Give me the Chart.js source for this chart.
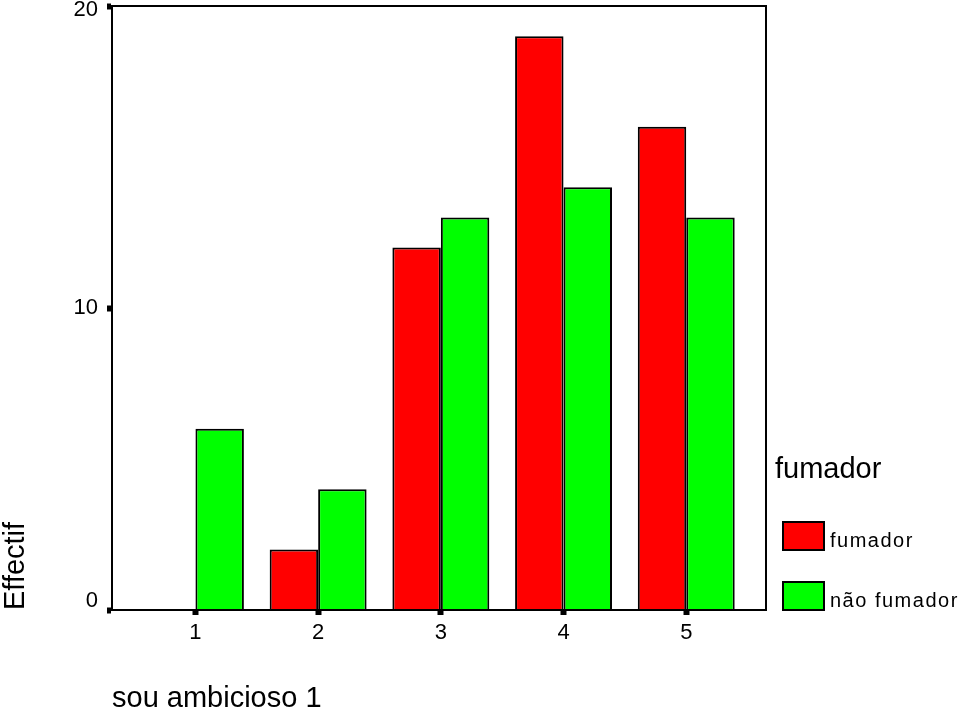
<!DOCTYPE html>
<html>
<head>
<meta charset="utf-8">
<script src="https://cdn.jsdelivr.net/npm/chart.js@4.4.0/dist/chart.umd.min.js"></script>
<style>
  html, body { margin: 0; padding: 0; background: #fff; }
  #wrap { width: 960px; height: 713px; }
</style>
</head>
<body>
<div id="wrap"><canvas id="chart" width="960" height="713"></canvas></div>
<script>
// values
const categories = [1, 2, 3, 4, 5];
const fumador = [0, 2, 12, 19, 16];
const naoFumador = [6, 4, 13, 14, 13];
const yTicks = [0, 10, 20];

const seriesNames = ['fumador', 'não fumador'];
const seriesColors = ['#ff0000', '#00ff00'];

const FONT = "'Liberation Sans', Arial, sans-serif";
Chart.defaults.font.family = FONT;
Chart.defaults.color = '#000';

function toPoints(vals) {
    return categories.map((c, i) => ({ x: c, y: vals[i] }));
}

// frame round the plot + legend at the right
const framePlugin = {
    id: 'frame',
    afterDraw(chart) {
        const { ctx, chartArea: a } = chart;
        ctx.save();
        ctx.strokeStyle = '#000';
        ctx.lineWidth = 2;
        ctx.strokeRect(a.left, a.top, a.right - a.left, a.bottom - a.top);

        // legend
        ctx.fillStyle = '#000';
        ctx.textBaseline = 'middle';
        ctx.textAlign = 'left';
        ctx.font = '29px ' + FONT;
        ctx.fillText('fumador', 775, 470);

        ctx.font = '20px ' + FONT;
        ctx.letterSpacing = '1.5px';
        chart.data.datasets.forEach((ds, i) => {
            const y = 522 + i * 60;
            ctx.fillStyle = ds.backgroundColor;
            ctx.fillRect(783, y, 41, 28);
            ctx.lineWidth = 2;
            ctx.strokeStyle = '#000';
            ctx.strokeRect(783, y, 41, 28);
            ctx.fillStyle = '#000';
            ctx.fillText(ds.label, 830, y + 19);
        });
        ctx.restore();
    }
};

new Chart(document.getElementById('chart'), {
    type: 'bar',
    data: {
        datasets: [
            { label: seriesNames[0], data: toPoints(fumador), backgroundColor: seriesColors[0] },
            { label: seriesNames[1], data: toPoints(naoFumador), backgroundColor: seriesColors[1] }
        ]
    },
    options: {
        responsive: false,
        animation: false,
        layout: { padding: { top: 6, right: 194, left: 0, bottom: 0 } },
        datasets: {
            bar: {
                borderColor: '#000',
                borderWidth: 2,
                categoryPercentage: 0.79,
                barPercentage: 1
            }
        },
        plugins: {
            legend: { display: false },
            tooltip: { enabled: false }
        },
        scales: {
            x: {
                type: 'linear',
                min: 0.32,
                max: 5.65,
                offset: false,
                afterBuildTicks(scale) { scale.ticks = categories.map(v => ({ value: v })); },
                afterFit(scale) { scale.height = 103; scale.paddingLeft = 0; scale.paddingRight = 0; },
                grid: { offset: false, drawOnChartArea: false, drawTicks: true, tickLength: 5, tickWidth: 6, tickColor: '#000' },
                border: { display: true, color: '#000', width: 2 },
                ticks: { font: { size: 22 }, color: '#000', padding: 5, maxRotation: 0 },
                title: {
                    display: true,
                    text: 'sou ambicioso 1',
                    align: 'start',
                    font: { size: 29, lineHeight: 0.95 },
                    color: '#000',
                    padding: { top: 0, bottom: 0 }
                }
            },
            y: {
                min: 0,
                max: 20,
                afterBuildTicks(scale) { scale.ticks = yTicks.map(v => ({ value: v })); },
                afterFit(scale) { scale.width = 112; scale.paddingTop = 0; scale.paddingBottom = 0; },
                grid: { drawOnChartArea: false, drawTicks: true, tickLength: 5, tickWidth: 6, tickColor: '#000' },
                border: { display: true, color: '#000', width: 2 },
                ticks: {
                    font: { size: 22, lineHeight: 0.4 },
                    color: '#000',
                    padding: 9,
                    // end labels sit inside the frame like the original (pad with empty lines)
                    callback: (v) => {
                        if (v === yTicks[yTicks.length - 1]) return ['', String(v)];
                        if (v === yTicks[0]) return [String(v), '', ''];
                        return String(v);
                    }
                },
                title: {
                    display: true,
                    text: 'Effectif',
                    align: 'start',
                    font: { size: 29, lineHeight: 1.1 },
                    color: '#000',
                    padding: { top: 0, bottom: 0 }
                }
            }
        }
    },
    plugins: [framePlugin]
});
</script>
</body>
</html>
